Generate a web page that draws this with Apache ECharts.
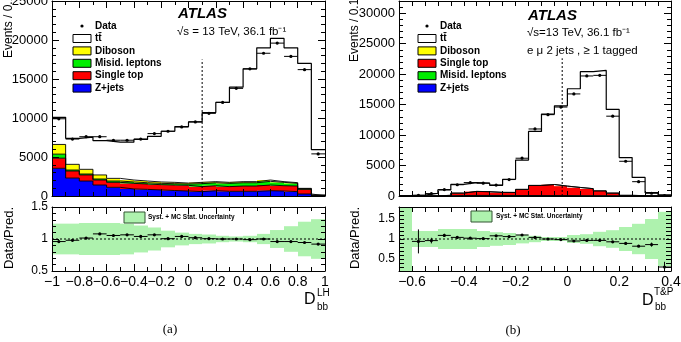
<!DOCTYPE html>
<html>
<head>
<meta charset="utf-8">
<script src="https://cdn.jsdelivr.net/npm/echarts@6/dist/echarts.min.js"></script>
<style>
html, body { margin: 0; padding: 0; background: #fff; }
#main { width: 681px; height: 342px; }
</style>
</head>
<body>
<div id="main"></div>
<script>
// ---- panel (a): D_bb^LH, bins of 0.1 ----
var edgesA = [-1, -0.9, -0.8, -0.7, -0.6, -0.5, -0.4, -0.3, -0.2, -0.1, 0, 0.1, 0.2, 0.3, 0.4, 0.5, 0.6, 0.7, 0.8, 0.9, 1];
var zjetsA   = [3550, 2300, 1920, 1410, 1110, 900, 850, 770, 700, 640, 560, 680, 600, 600, 600, 680, 640, 560, 260, 30];
var stopA    = [1300, 900, 780, 640, 640, 720, 690, 680, 700, 730, 640, 640, 600, 680, 680, 730, 680, 720, 590, 60];
var misidA   = [520, 130, 120, 130, 170, 180, 160, 170, 180, 170, 380, 380, 420, 420, 420, 470, 430, 340, 90, 10];
var dibosonA = [1240, 730, 600, 520, 340, 250, 220, 180, 170, 120, 170, 140, 130, 140, 140, 170, 90, 90, 40, 5];
var ttbarA   = [3480, 3340, 4130, 4400, 4640, 4850, 5330, 5850, 6550, 7240, 7750, 8860, 10250, 12110, 14460, 16950, 18360, 17290, 16020, 5845];
var dataA    = [9900, 7300, 7600, 7600, 7150, 7150, 7300, 8000, 8300, 8850, 9500, 10600, 12000, 13800, 16300, 18300, 19600, 17900, 16200, 5400];
var ratioA    = [0.96, 0.98, 1.015, 1.08, 1.055, 1.065, 1.04, 1.065, 1.005, 1.04, 1.02, 1.005, 1.0, 1.0, 0.99, 1.0, 0.96, 0.96, 0.945, 0.92];
var ratioErrA = [0.015, 0.015, 0.015, 0.015, 0.015, 0.015, 0.015, 0.015, 0.012, 0.012, 0.01, 0.01, 0.01, 0.01, 0.01, 0.01, 0.01, 0.01, 0.01, 0.015];
var bandA     = [0.24, 0.24, 0.25, 0.25, 0.25, 0.24, 0.21, 0.18, 0.13, 0.10, 0.08, 0.07, 0.05, 0.04, 0.05, 0.08, 0.14, 0.20, 0.27, 0.31];
var cutA = [0.1, 17500];

// ---- panel (b): D_bb^T&P, bins of 0.05 ----
var edgesB = [-0.65, -0.6, -0.55, -0.5, -0.45, -0.4, -0.35, -0.3, -0.25, -0.2, -0.15, -0.1, -0.05, 0, 0.05, 0.1, 0.15, 0.2, 0.25, 0.3, 0.35, 0.4];
var zjetsB   = [0, 0, 0, 10, 40, 60, 60, 50, 40, 30, 20, 20, 20, 10, 10, 10, 5, 0, 0, 0, 0];
var stopB    = [0, 0, 20, 80, 400, 650, 600, 500, 500, 1000, 1650, 1800, 1550, 1350, 1150, 800, 450, 100, 50, 20, 0];
var misidB   = [0, 0, 5, 20, 30, 40, 40, 40, 40, 50, 60, 60, 50, 40, 40, 30, 20, 10, 5, 0, 0];
var dibosonB = [0, 0, 0, 5, 10, 10, 10, 10, 10, 10, 10, 10, 10, 10, 10, 5, 5, 0, 0, 0, 0];
var ttbarB   = [50, 150, 425, 885, 1420, 1440, 1390, 1150, 2160, 4810, 8860, 11560, 13170, 16190, 19190, 19755, 13720, 6190, 2995, 530, 200];
var dataB    = [null, 120, 400, 1050, 1850, 2200, 2100, 1800, 2700, 6200, 11000, 13350, 14600, 16750, 19700, 19800, 13100, 5700, 2350, 450, 50];
var ratioB    = [null, 0.94, 0.96, 1.09, 1.04, 1.02, 1.01, 1.08, 1.06, 1.1, 1.04, 1.0, 0.985, 0.95, 0.965, 0.965, 0.93, 0.89, 0.82, 0.86, 0.3];
var ratioErrB = [0, 0.3, 0.07, 0.04, 0.03, 0.02, 0.02, 0.02, 0.02, 0.015, 0.01, 0.01, 0.01, 0.01, 0.01, 0.01, 0.01, 0.015, 0.02, 0.05, 0.13];
var bandB     = [0.9, 0.2, 0.2, 0.25, 0.25, 0.25, 0.2, 0.17, 0.15, 0.11, 0.08, 0.05, 0.05, 0.1, 0.12, 0.18, 0.22, 0.3, 0.38, 0.5, 0.68];
var cutB = [-0.02, 22600];

var FONT = '"Liberation Sans", Arial, Helvetica, sans-serif';
var C = { zjets: '#0000ff', stop: '#ff0000', misid: '#00ee00', diboson: '#ffff00', ttbar: '#ffffff', band: '#aef2ae' };

var chart = echarts.init(document.getElementById('main'), null, { renderer: 'canvas' });

function fmtNum(v) {
	var s = String(+(+v).toFixed(2));
	return s.replace('-', '\u2212');
}

// one value axis, one side of a grid frame
function makeAxis(grid, pos, min, max, interval, label, minor) {
	var ax = {
		type: 'value', gridIndex: grid, position: pos, min: min, max: max, interval: interval, z: 10,
		axisLine: { show: true, onZero: false, lineStyle: { color: '#000', width: 1 } },
		axisTick: { show: true, inside: true, length: 7, lineStyle: { color: '#000', width: 1 } },
		minorTick: { show: !!minor, splitNumber: minor || 5, length: 4, lineStyle: { color: '#000', width: 1 } },
		splitLine: { show: false },
		minorSplitLine: { show: false },
		axisLabel: { show: false }
	};
	if (label) {
		ax.axisLabel = Object.assign({ show: true, color: '#000', fontFamily: FONT, formatter: fmtNum }, label);
	}
	return ax;
}

function cumulate(layers) {
	var run = layers[0].map(function() { return 0; });
	return layers.map(function(arr) {
		var base = run;
		run = run.map(function(v, i) { return v + arr[i]; });
		return { base: base, top: run };
	});
}

// filled histogram layer
function fillSeries(ax, edges, base, top, color) {
	return {
		type: 'custom', xAxisIndex: ax, yAxisIndex: ax, clip: true, silent: true, z: 2,
		data: top.map(function(v, i) { return [edges[i], edges[i + 1], base[i], v]; }),
		renderItem: function(params, api) {
			var p0 = api.coord([api.value(0), api.value(2)]);
			var p1 = api.coord([api.value(1), api.value(3)]);
			var x0 = Math.round(p0[0]), x1 = Math.round(p1[0]);
			return { type: 'rect', shape: { x: x0, y: p1[1], width: x1 - x0, height: p0[1] - p1[1] }, style: { fill: color } };
		}
	};
}

// histogram outline
function stepSeries(ax, edges, top, width) {
	var d = top.map(function(v, i) { return [edges[i], v]; });
	d.push([edges[edges.length - 1], top[top.length - 1]]);
	return {
		type: 'line', step: 'end', xAxisIndex: ax, yAxisIndex: ax, data: d, symbol: 'none', silent: true, z: 3,
		lineStyle: { color: '#000', width: width || 1 }
	};
}

// data points: bin-wide horizontal bar, vertical error, dot
function dataSeries(ax, edges, vals, errs) {
	var d = [];
	vals.forEach(function(v, i) {
		if (v != null) d.push([edges[i], edges[i + 1], v, errs ? errs[i] : 0]);
	});
	return {
		type: 'custom', xAxisIndex: ax, yAxisIndex: ax, clip: true, silent: true, z: 5, data: d,
		renderItem: function(params, api) {
			var x0 = api.value(0), x1 = api.value(1), y = api.value(2), e = api.value(3);
			var a = api.coord([x0, y]), b = api.coord([x1, y]), c = api.coord([(x0 + x1) / 2, y]);
			var up = api.coord([x0, y + e])[1], dn = api.coord([x0, y - e])[1];
			var st = { stroke: '#000', lineWidth: 1 };
			return {
				type: 'group', children: [
					{ type: 'line', shape: { x1: a[0], y1: a[1], x2: b[0], y2: b[1] }, style: st },
					{ type: 'line', shape: { x1: c[0], y1: up, x2: c[0], y2: dn }, style: st },
					{ type: 'circle', shape: { cx: c[0], cy: c[1], r: 1.6 }, style: { fill: '#000' } }
				]
			};
		}
	};
}

function bandSeries(ax, edges, half) {
	return {
		type: 'custom', xAxisIndex: ax, yAxisIndex: ax, clip: true, silent: true, z: 1,
		data: half.map(function(h, i) { return [edges[i], edges[i + 1], 1 - h, 1 + h]; }),
		renderItem: function(params, api) {
			var p0 = api.coord([api.value(0), api.value(2)]);
			var p1 = api.coord([api.value(1), api.value(3)]);
			var x0 = Math.round(p0[0]), x1 = Math.round(p1[0]);
			return { type: 'rect', shape: { x: x0, y: p1[1], width: x1 - x0, height: p0[1] - p1[1] }, style: { fill: C.band } };
		}
	};
}

function guideSeries(ax, pts) {
	return {
		type: 'line', xAxisIndex: ax, yAxisIndex: ax, data: pts, symbol: 'none', silent: true, z: 4,
		lineStyle: { color: '#000', width: 1, type: [2, 2] }
	};
}

function panelSeries(axMain, axRatio, edges, layers, data, ratio, ratioErr, band, cut) {
	var stacks = cumulate(layers.map(function(l) { return l.v; }));
	var out = [];
	stacks.forEach(function(s, k) {
		out.push(fillSeries(axMain, edges, s.base, s.top, layers[k].c));
		out.push(stepSeries(axMain, edges, s.top, k === stacks.length - 1 ? 1.2 : 0.9));
	});
	out.push(guideSeries(axMain, [[cut[0], 0], [cut[0], cut[1]]]));
	out.push(dataSeries(axMain, edges, data, null));
	out.push(bandSeries(axRatio, edges, band));
	out.push(guideSeries(axRatio, [[edges[0], 1], [edges[edges.length - 1], 1]]));
	out.push(dataSeries(axRatio, edges, ratio, ratioErr));
	return out;
}

var series = []
	.concat(panelSeries(0, 2, edgesA, [
		{ v: zjetsA, c: C.zjets }, { v: stopA, c: C.stop }, { v: misidA, c: C.misid },
		{ v: dibosonA, c: C.diboson }, { v: ttbarA, c: C.ttbar }
	], dataA, ratioA, ratioErrA, bandA, cutA))
	.concat(panelSeries(4, 6, edgesB, [
		{ v: zjetsB, c: C.zjets }, { v: misidB, c: C.misid }, { v: stopB, c: C.stop },
		{ v: dibosonB, c: C.diboson }, { v: ttbarB, c: C.ttbar }
	], dataB, ratioB, ratioErrB, bandB, cutB));

var onlyEvery = function(step) {
	return function(v) {
		return Math.abs(v / step - Math.round(v / step)) < 1e-6 ? fmtNum(v) : '';
	};
};
var yLab = { fontSize: 13, margin: 4 };
var xLab = { fontSize: 14, margin: 4 };

var xAxes = [
	makeAxis(0, 'bottom', -1, 1, 0.2, null, 2),
	makeAxis(0, 'top', -1, 1, 0.2, null, 2),
	makeAxis(1, 'bottom', -1, 1, 0.2, xLab, 2),
	makeAxis(1, 'top', -1, 1, 0.2, null, 2),
	makeAxis(2, 'bottom', -0.65, 0.4, 0.05, null, 0),
	makeAxis(2, 'top', -0.65, 0.4, 0.05, null, 0),
	makeAxis(3, 'bottom', -0.65, 0.4, 0.05, Object.assign({}, xLab, { formatter: onlyEvery(0.2) }), 0),
	makeAxis(3, 'top', -0.65, 0.4, 0.05, null, 0)
];
var yAxes = [
	makeAxis(0, 'left', 0, 25000, 5000, yLab, 5),
	makeAxis(0, 'right', 0, 25000, 5000, null, 5),
	makeAxis(1, 'left', 0.5, 1.5, 0.5, { fontSize: 12, margin: 4 }, 5),
	makeAxis(1, 'right', 0.5, 1.5, 0.5, null, 5),
	makeAxis(2, 'left', 0, 32000, 5000, Object.assign({ showMaxLabel: false }, yLab), 5),
	makeAxis(2, 'right', 0, 32000, 5000, null, 5),
	makeAxis(3, 'left', 0.2, 1.8, 0.1, { fontSize: 12, margin: 4, formatter: onlyEvery(0.5) }, 0),
	makeAxis(3, 'right', 0.2, 1.8, 0.1, null, 0)
];
// shorter ticks where every 0.05 / 0.1 gets one
[4, 5, 6, 7].forEach(function(i) { xAxes[i].axisTick.length = 5; });
[6, 7].forEach(function(i) { yAxes[i].axisTick.length = 5; });

function txt(x, y, text, size, extra) {
	return {
		type: 'text', x: x, y: y, z: 100, rotation: (extra && extra.rot) || 0,
		style: Object.assign({
			text: text, fontSize: size, fontFamily: FONT, fill: '#000',
			align: 'left', verticalAlign: 'middle', textAlign: 'left', textVerticalAlign: 'middle'
		}, extra && extra.style)
	};
}
function box(x, y, w, h, fill, stroke) {
	return { type: 'rect', z: 100, shape: { x: x, y: y, width: w, height: h }, style: { fill: fill, stroke: stroke || '#000', lineWidth: 1 } };
}
function legend(x0, rows) {
	var g = [
		{ type: 'circle', z: 100, shape: { cx: x0 + 9, cy: 26, r: 1.6 }, style: { fill: '#000' } },
		txt(x0 + 22, 26, 'Data', 10, { style: { fontWeight: 'bold' } })
	];
	rows.forEach(function(r, i) {
		var y = 38.5 + i * 12.4;
		g.push(box(x0, y - 4, 18, 8, r.c));
		g.push(txt(x0 + 22, y, r.t, 10, { style: { fontWeight: 'bold' } }));
	});
	return g;
}
var serifFont = '"Liberation Serif", "DejaVu Serif", serif';
var up = Math.PI / 2;

var graphics = []
	// panel (a)
	.concat([
		txt(9, 58, 'Events / 0.1', 12, { rot: up }),
		txt(9, 238, 'Data/Pred.', 13, { rot: up, style: { align: 'center', textAlign: 'center' } }),
		txt(178, 14, 'ATLAS', 15, { style: { fontWeight: 'bold', fontStyle: 'italic' } }),
		txt(177, 32, '\u221As = 13 TeV, 36.1 fb\u207B\u00B9', 11.5),
		box(124, 212, 21, 11, C.band, '#335533'),
		txt(148, 217.5, 'Syst. + MC Stat. Uncertainty', 6.5, { style: { fontWeight: 'bold' } }),
		txt(304, 300, 'D', 16),
		txt(317, 293, 'LH', 10),
		txt(317, 307, 'bb', 10),
		txt(170, 330, '(a)', 13, { style: { fontFamily: serifFont, align: 'center', textAlign: 'center' } })
	])
	.concat(legend(73, [
		{ c: C.ttbar, t: 'tt\u0304' }, { c: C.diboson, t: 'Diboson' }, { c: C.misid, t: 'Misid. leptons' },
		{ c: C.stop, t: 'Single top' }, { c: C.zjets, t: 'Z+jets' }
	]))
	// panel (b)
	.concat([
		txt(355, 62, 'Events / 0.1', 12, { rot: up }),
		txt(355, 238, 'Data/Pred.', 13, { rot: up, style: { align: 'center', textAlign: 'center' } }),
		txt(528, 16, 'ATLAS', 15, { style: { fontWeight: 'bold', fontStyle: 'italic' } }),
		txt(527, 33, '\u221As=13 TeV, 36.1 fb\u207B\u00B9', 11.5),
		txt(527, 51, 'e \u03BC 2 jets , \u2265 1 tagged', 11.5),
		box(471, 211, 21, 11, C.band, '#335533'),
		txt(496, 216.5, 'Syst. + MC Stat. Uncertainty', 6.5, { style: { fontWeight: 'bold' } }),
		txt(642, 301, 'D', 16),
		txt(654, 292, 'T&P', 10),
		txt(655, 307, 'bb', 10),
		txt(513, 331, '(b)', 13, { style: { fontFamily: serifFont, align: 'center', textAlign: 'center' } })
	])
	.concat(legend(418, [
		{ c: C.ttbar, t: 'tt\u0304' }, { c: C.diboson, t: 'Diboson' }, { c: C.stop, t: 'Single top' },
		{ c: C.misid, t: 'Misid. leptons' }, { c: C.zjets, t: 'Z+jets' }
	]));

chart.setOption({
	animation: false,
	backgroundColor: '#fff',
	textStyle: { fontFamily: FONT },
	grid: [
		{ left: 52, top: 1, width: 273, height: 195, containLabel: false, outerBoundsMode: 'none' },
		{ left: 52, top: 207, width: 273, height: 64, containLabel: false, outerBoundsMode: 'none' },
		{ left: 399, top: 1, width: 272, height: 195, containLabel: false, outerBoundsMode: 'none' },
		{ left: 399, top: 207, width: 272, height: 64, containLabel: false, outerBoundsMode: 'none' }
	],
	xAxis: xAxes,
	yAxis: yAxes,
	series: series,
	graphic: { elements: graphics }
});
</script>
</body>
</html>
